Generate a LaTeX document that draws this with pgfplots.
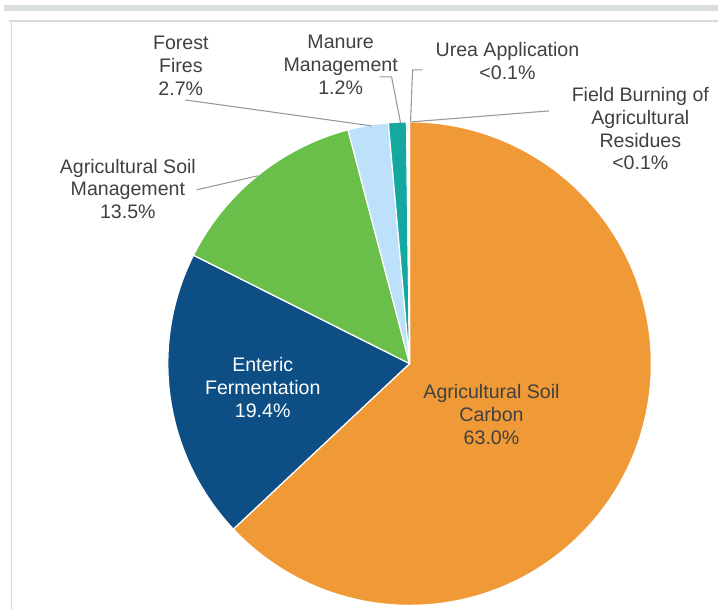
\documentclass[border=0pt]{standalone}
\usepackage{pgfplots}
\pgfplotsset{compat=1.18}
\usepackage{fontspec}
\setmainfont{Liberation Sans}
\definecolor{cOrange}{HTML}{F09A37}
\definecolor{cBlue}{HTML}{0D4E85}
\definecolor{cGreen}{HTML}{6ABF4B}
\definecolor{cLight}{HTML}{BDE1FA}
\definecolor{cTeal}{HTML}{14A89E}
\definecolor{cGray}{HTML}{A5A5A5}
\definecolor{cYellow}{HTML}{FFC000}
\definecolor{txt}{HTML}{404040}
\definecolor{lead}{HTML}{9A9A9A}
\definecolor{frame}{HTML}{DADADA}
\definecolor{bar}{HTML}{D8DDE0}
\begin{document}
\begin{tikzpicture}
\begin{axis}[
  width=719pt, height=611pt, scale only axis,
  xmin=0, xmax=719, ymin=0, ymax=611,
  hide axis, clip=false,
]
\path (axis cs:0,0) rectangle (axis cs:719,611);
% frame
\fill[bar] (axis cs:4,600) rectangle (axis cs:719,606);
\draw[frame, line width=1.5pt] (axis cs:9,590) -- (axis cs:719,590);
\draw[frame, line width=1.5pt] (axis cs:11.5,590) -- (axis cs:11.5,0);
% pie slices: value (percent) / colour, clockwise from 12 o'clock
\xdef\ang{90}
\foreach \v/\c in {63.0/cOrange,19.4/cBlue,13.5/cGreen,2.7/cLight,1.2/cTeal,0.1/cGray,0.1/cYellow} {
  \pgfmathsetmacro\endang{\ang-3.6*\v}
  \edef\cmd{\noexpand\fill[\c, draw=white, line width=1.2pt, line join=round] (axis cs:410,247) -- ++(\ang:242pt) arc[start angle=\ang, end angle=\endang, radius=242pt] -- cycle;}
  \cmd
  \xdef\ang{\endang}
}
% leader lines
\draw[lead, line width=1.1pt] (axis cs:185,511) -- (axis cs:372,485);
\draw[lead, line width=1.1pt] (axis cs:380,534) -- (axis cs:392,534) -- (axis cs:401,488);
\draw[lead, line width=1.1pt] (axis cs:423,541) -- (axis cs:413,541) -- (axis cs:411,489);
\draw[lead, line width=1.1pt] (axis cs:550,500) -- (axis cs:412,489);
\draw[lead, line width=1.1pt] (axis cs:197,421) -- (axis cs:258,435);
% labels
\tikzset{lbl/.style={align=center, text=txt, font=\fontsize{19.6}{22.7}\selectfont, inner sep=0pt}}
\node[lbl] at (axis cs:181,545) {Forest\\Fires\\2.7\%};
\node[lbl] at (axis cs:341,546) {Manure\\Management\\1.2\%};
\node[lbl] at (axis cs:508,550) {Urea Application\\<0.1\%};
\node[lbl] at (axis cs:641,482) {Field Burning of\\Agricultural\\Residues\\<0.1\%};
\node[lbl] at (axis cs:128,422) {Agricultural Soil\\Management\\13.5\%};
\node[lbl, text=white] at (axis cs:263,223) {Enteric\\Fermentation\\19.4\%};
\node[lbl] at (axis cs:492,196) {Agricultural Soil\\Carbon\\63.0\%};
\end{axis}
\end{tikzpicture}
\end{document}
